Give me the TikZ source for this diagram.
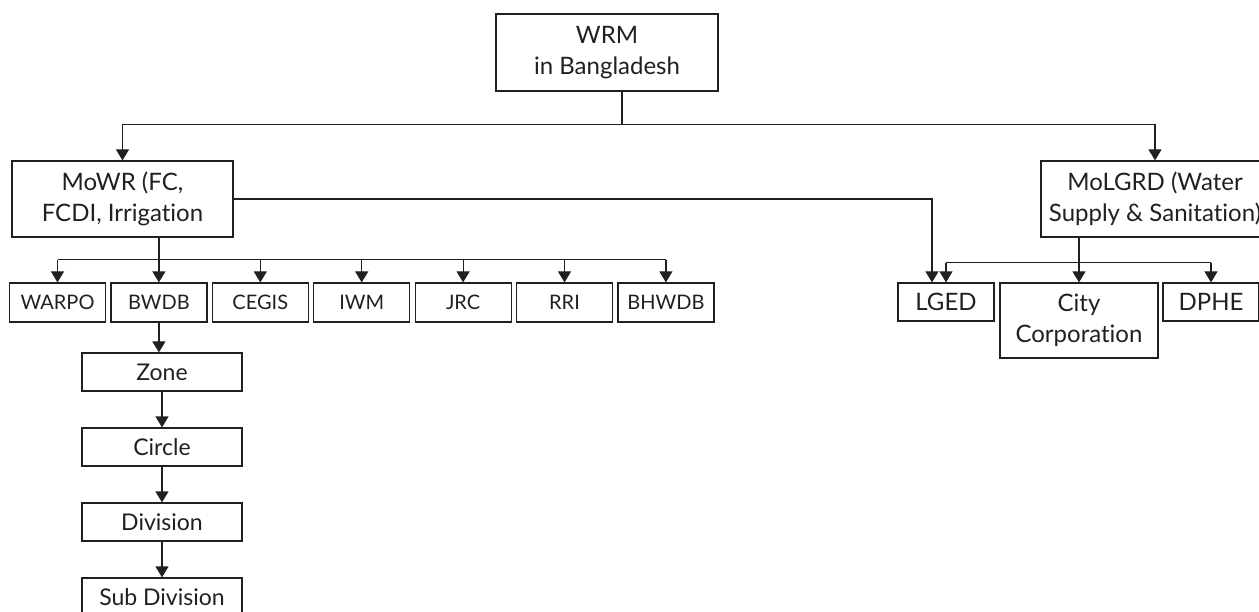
\documentclass[tikz,border=0pt]{standalone}
\usepackage{fontspec}
\setmainfont{Lato}[Ligatures=NoCommon]
\usetikzlibrary{arrows.meta,calc}
\definecolor{ink}{HTML}{231F20}
\tikzset{
  box/.style={draw=ink, line width=1.2pt, text=ink, inner sep=0pt, align=center},
  link/.style={draw=ink, line width=1.2pt},
  arr/.style={link, -{Triangle[width=13pt,length=11pt]}},
  big/.style={font=\fontsize{24}{31}\selectfont},
  mid/.style={font=\fontsize{23}{28}\selectfont},
  small/.style={font=\fontsize{20}{24}\selectfont}
}
\newcommand{\orgbox}[7]{\node[box,#7,minimum width=#4pt,minimum height=#5pt] (#1) at (#2,#3) {#6};}

\begin{document}
\begin{tikzpicture}[x=1pt,y=-1pt]
        \useasboundingbox (0,0) rectangle (1259,612);
        \clip (0,0) rectangle (1259,612);
        % top
        \orgbox{wrm}{607}{52.5}{222}{77}{WRM\\in Bangladesh}{big}
        % ministries
        \orgbox{mowr}{122.5}{199}{221}{76}{MoWR (FC,\\FCDI, Irrigation}{big}
        \orgbox{molgrd}{1155}{199}{228}{76}{MoLGRD (Water\\Supply \& Sanitation)}{big}
        % agencies under MoWR
        \foreach \nm/\lb [count=\i from 0] in {warpo/WARPO,bwdb/BWDB,cegis/CEGIS,iwm/IWM,jrc/JRC,rri/RRI,bhwdb/BHWDB}
          {\orgbox{\nm}{57.5+101.4*\i}{302.5}{96}{39}{\lb}{small}}
        % agencies under MoLGRD
        \orgbox{lged}{946}{302}{96}{38}{LGED}{big}
        \orgbox{city}{1079}{320.5}{158}{75}{City\\Corporation}{big}
        \orgbox{dphe}{1211}{302}{96}{38}{DPHE}{big}
        % BWDB field offices
        \foreach \nm/\lb [count=\i from 0] in {zone/Zone,circ/Circle,division/Division,subdiv/Sub Division}
          {\orgbox{\nm}{162}{372+75*\i}{160}{38}{\lb}{mid}}

        % top split
        \draw[link] ([xshift=15pt]wrm.south) -- ++(0,33) coordinate (top);
        \draw[arr] (top) -| (mowr.north);
        \draw[arr] (top) -| (molgrd.north);
        \draw[arr] (mowr.east) -| ([xshift=-14pt]lged.north);
        % MoWR bus
        \draw[arr] (mowr.south -| bwdb.north) -- (bwdb.north);
        \coordinate (busw) at ($(mowr.south -| bwdb.north)+(0,22)$);
        \draw[link] (busw -| warpo.north) -- (busw -| bhwdb.north);
        \foreach \nm in {warpo,cegis,iwm,jrc,rri,bhwdb}
          \draw[arr] (busw -| \nm.north) -- (\nm.north);
        % MoLGRD bus
        \draw[arr] (molgrd.south -| city.north) -- (city.north);
        \coordinate (busl) at ($(molgrd.south)+(0,25)$);
        \draw[link] (busl -| lged.north) -- (busl -| dphe.north);
        \draw[arr] (busl -| lged.north) -- (lged.north);
        \draw[arr] (busl -| dphe.north) -- (dphe.north);
        % BWDB chain
        \draw[arr] (bwdb.south) -- (bwdb.south |- zone.north);
        \draw[arr] (zone) -- (circ);
        \draw[arr] (circ) -- (division);
        \draw[arr] (division) -- (subdiv);
\end{tikzpicture}
\end{document}
